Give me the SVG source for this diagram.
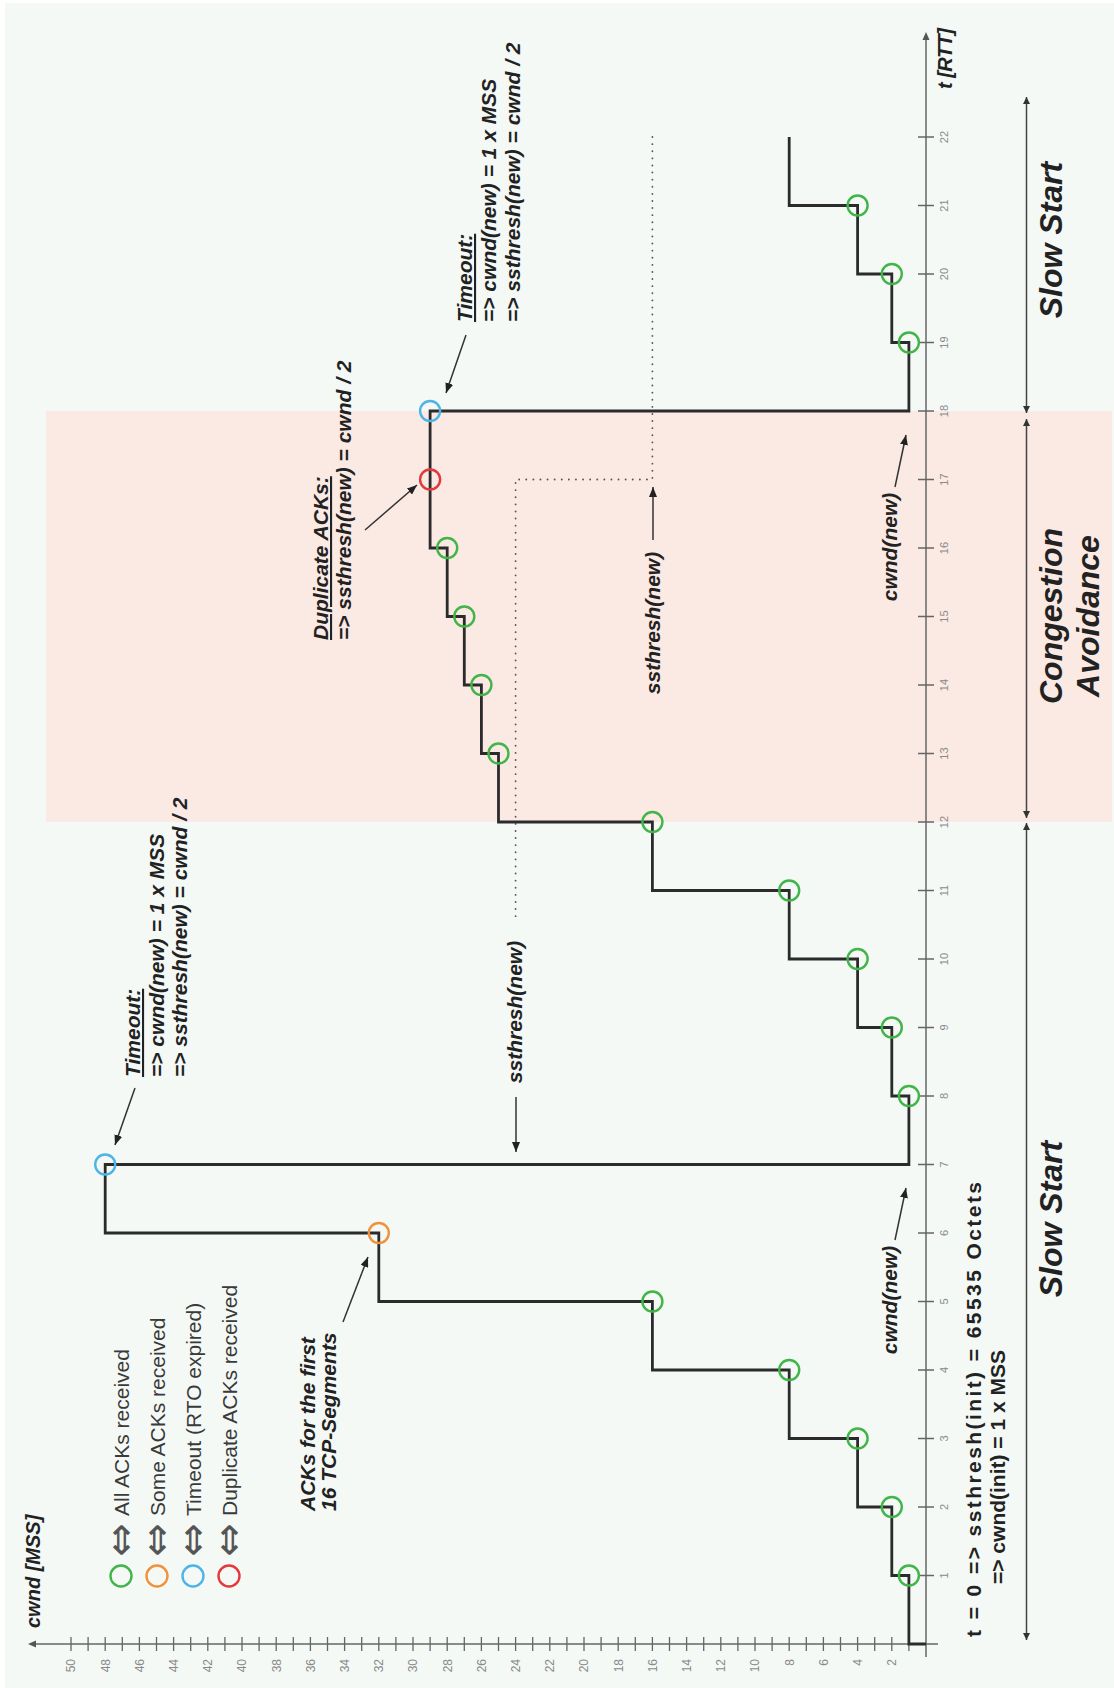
<svg xmlns="http://www.w3.org/2000/svg" width="1114" height="1688" viewBox="0 0 1114 1688">
  <defs>
    <style>
      text{font-family:"Liberation Sans",Arial,sans-serif}
      .ann{font-size:21px;font-weight:bold;font-style:italic;fill:#222}
      .leg{font-size:21px;fill:#3a3a3a}
      text.sym{font-family:"DejaVu Sans",sans-serif;font-size:40px;fill:#555}
      .tk{font-size:11px;fill:#8a8a8a}
      .tkc{font-size:12px;fill:#8a8a8a}
      .ph{font-size:32px;font-weight:bold;font-style:italic;fill:#222}
      .ini{font-size:21px;font-weight:bold;fill:#222}
      .axl{font-size:20px;font-weight:bold;font-style:italic;fill:#222}
      .curve{fill:none;stroke:#2b2b2b;stroke-width:2.8}
      .pt{fill:none;stroke-width:2.4}
      .g{stroke:#41b549}.o{stroke:#f0923c}.b{stroke:#4db5e6}.r{stroke:#e2393b}
      .ax{stroke:#666;stroke-width:1.5;fill:none}
      .tick{stroke:#666;stroke-width:1.3;fill:none}
      .dot{stroke:#555;stroke-width:1.8;stroke-dasharray:0.1 7;stroke-linecap:round;fill:none}
      .ptr{stroke:#333;stroke-width:1.5;fill:none;marker-end:url(#head)}
      .span{stroke:#444;stroke-width:1.5;fill:none;marker-start:url(#tip);marker-end:url(#tip)}
    </style>
    <marker id="head" viewBox="0 0 10 8" refX="10" refY="4" markerWidth="10" markerHeight="8" markerUnits="userSpaceOnUse" orient="auto">
      <path d="M0,0 L10,4 L0,8 z" fill="#222"/>
    </marker>
    <marker id="tip" viewBox="0 0 7 7" refX="7" refY="3.5" markerWidth="7" markerHeight="7" markerUnits="userSpaceOnUse" orient="auto-start-reverse">
      <path d="M0,0 L7,3.5 L0,7 z" fill="#333"/>
    </marker>
  </defs>

  <!-- backdrop and congestion-avoidance band -->
  <g id="backdrop">
    <rect x="0" y="0" width="1114" height="1688" fill="#ffffff"/>
    <rect x="5" y="3" width="1109" height="1685" fill="#f4f9f6"/>
    <rect x="46" y="411" width="1066" height="411" fill="#fbe9e3"/>
  </g>

  <!-- axes -->
  <g id="axes">
    <path class="ax" d="M938,1644 H34"/>
    <path d="M28,1644 L36,1640.5 L36,1647.5 z" fill="#555"/>
    <path class="ax" d="M926,1657 V38"/>
    <path d="M926,32 L922.5,40 L929.5,40 z" fill="#555"/>
    <!-- cwnd ticks, one per MSS -->
    <path class="tick" d="M908.9,1637V1651M891.8,1637V1651M874.7,1637V1651M857.6,1637V1651M840.5,1637V1651M823.4,1637V1651M806.3,1637V1651M789.2,1637V1651M772.1,1637V1651M755,1637V1651M737.9,1637V1651M720.8,1637V1651M703.7,1637V1651M686.6,1637V1651M669.5,1637V1651M652.4,1637V1651M635.3,1637V1651M618.2,1637V1651M601.1,1637V1651M584,1637V1651M566.9,1637V1651M549.8,1637V1651M532.7,1637V1651M515.6,1637V1651M498.5,1637V1651M481.4,1637V1651M464.3,1637V1651M447.2,1637V1651M430.1,1637V1651M413,1637V1651M395.9,1637V1651M378.8,1637V1651M361.7,1637V1651M344.6,1637V1651M327.5,1637V1651M310.4,1637V1651M293.3,1637V1651M276.2,1637V1651M259.1,1637V1651M242,1637V1651M224.9,1637V1651M207.8,1637V1651M190.7,1637V1651M173.6,1637V1651M156.5,1637V1651M139.4,1637V1651M122.3,1637V1651M105.2,1637V1651M88.1,1637V1651M71,1637V1651"/>
    <!-- time ticks, one per RTT -->
    <path class="tick" d="M918,1575.5H934M918,1507H934M918,1438.5H934M918,1370H934M918,1301.5H934M918,1233H934M918,1164.5H934M918,1096H934M918,1027.5H934M918,959H934M918,890.5H934M918,822H934M918,753.5H934M918,685H934M918,616.5H934M918,548H934M918,479.5H934M918,411H934M918,342.5H934M918,274H934M918,205.5H934M918,137H934"/>
    <g class="tkc" text-anchor="end">
      <text x="896.1" y="1659" transform="rotate(-90 896.1 1659)">2</text>
      <text x="861.9" y="1659" transform="rotate(-90 861.9 1659)">4</text>
      <text x="827.7" y="1659" transform="rotate(-90 827.7 1659)">6</text>
      <text x="793.5" y="1659" transform="rotate(-90 793.5 1659)">8</text>
      <text x="759.3" y="1659" transform="rotate(-90 759.3 1659)">10</text>
      <text x="725.1" y="1659" transform="rotate(-90 725.1 1659)">12</text>
      <text x="690.9" y="1659" transform="rotate(-90 690.9 1659)">14</text>
      <text x="656.7" y="1659" transform="rotate(-90 656.7 1659)">16</text>
      <text x="622.5" y="1659" transform="rotate(-90 622.5 1659)">18</text>
      <text x="588.3" y="1659" transform="rotate(-90 588.3 1659)">20</text>
      <text x="554.1" y="1659" transform="rotate(-90 554.1 1659)">22</text>
      <text x="519.9" y="1659" transform="rotate(-90 519.9 1659)">24</text>
      <text x="485.7" y="1659" transform="rotate(-90 485.7 1659)">26</text>
      <text x="451.5" y="1659" transform="rotate(-90 451.5 1659)">28</text>
      <text x="417.3" y="1659" transform="rotate(-90 417.3 1659)">30</text>
      <text x="383.1" y="1659" transform="rotate(-90 383.1 1659)">32</text>
      <text x="348.9" y="1659" transform="rotate(-90 348.9 1659)">34</text>
      <text x="314.7" y="1659" transform="rotate(-90 314.7 1659)">36</text>
      <text x="280.5" y="1659" transform="rotate(-90 280.5 1659)">38</text>
      <text x="246.3" y="1659" transform="rotate(-90 246.3 1659)">40</text>
      <text x="212.1" y="1659" transform="rotate(-90 212.1 1659)">42</text>
      <text x="177.9" y="1659" transform="rotate(-90 177.9 1659)">44</text>
      <text x="143.7" y="1659" transform="rotate(-90 143.7 1659)">46</text>
      <text x="109.5" y="1659" transform="rotate(-90 109.5 1659)">48</text>
      <text x="75.3" y="1659" transform="rotate(-90 75.3 1659)">50</text>
    </g>
    <g class="tk" text-anchor="middle">
      <text x="948" y="1575.5" transform="rotate(-90 948 1575.5)">1</text>
      <text x="948" y="1507" transform="rotate(-90 948 1507)">2</text>
      <text x="948" y="1438.5" transform="rotate(-90 948 1438.5)">3</text>
      <text x="948" y="1370" transform="rotate(-90 948 1370)">4</text>
      <text x="948" y="1301.5" transform="rotate(-90 948 1301.5)">5</text>
      <text x="948" y="1233" transform="rotate(-90 948 1233)">6</text>
      <text x="948" y="1164.5" transform="rotate(-90 948 1164.5)">7</text>
      <text x="948" y="1096" transform="rotate(-90 948 1096)">8</text>
      <text x="948" y="1027.5" transform="rotate(-90 948 1027.5)">9</text>
      <text x="948" y="959" transform="rotate(-90 948 959)">10</text>
      <text x="948" y="890.5" transform="rotate(-90 948 890.5)">11</text>
      <text x="948" y="822" transform="rotate(-90 948 822)">12</text>
      <text x="948" y="753.5" transform="rotate(-90 948 753.5)">13</text>
      <text x="948" y="685" transform="rotate(-90 948 685)">14</text>
      <text x="948" y="616.5" transform="rotate(-90 948 616.5)">15</text>
      <text x="948" y="548" transform="rotate(-90 948 548)">16</text>
      <text x="948" y="479.5" transform="rotate(-90 948 479.5)">17</text>
      <text x="948" y="411" transform="rotate(-90 948 411)">18</text>
      <text x="948" y="342.5" transform="rotate(-90 948 342.5)">19</text>
      <text x="948" y="274" transform="rotate(-90 948 274)">20</text>
      <text x="948" y="205.5" transform="rotate(-90 948 205.5)">21</text>
      <text x="948" y="137" transform="rotate(-90 948 137)">22</text>
    </g>
    <text class="axl" x="40" y="1628" transform="rotate(-90 40 1628)">cwnd [MSS]</text>
    <text class="axl" x="952" y="89" transform="rotate(-90 952 89)" textLength="61">t [RTT]</text>
  </g>

  <!-- phase spans along the time axis -->
  <g id="phases">
    <path class="span" d="M1026.5,823 V1640"/>
    <path class="span" d="M1026.5,419 V818"/>
    <path class="span" d="M1026.5,97 V413"/>
    <text class="ph" x="1062" y="1219" text-anchor="middle" transform="rotate(-90 1062 1219)">Slow Start</text>
    <text class="ph" x="1062" y="240" text-anchor="middle" transform="rotate(-90 1062 240)">Slow Start</text>
    <text class="ph" x="1062" y="616" text-anchor="middle" transform="rotate(-90 1062 616)">Congestion</text>
    <text class="ph" x="1099" y="616" text-anchor="middle" transform="rotate(-90 1099 616)">Avoidance</text>
  </g>

  <!-- ssthresh guide lines -->
  <g id="thresholds">
    <path class="dot" d="M652.4,137 V479.5 H515.6 V917"/>
  </g>

  <!-- congestion window over time -->
  <g id="cwnd-curve">
    <path class="curve" d="M926,1644 H908.9 V1575.5 H891.8 V1507 H857.6 V1438.5 H789.2 V1370 H652.4 V1301.5 H378.8 V1233 H105.2 V1164.5 H908.9 V1096 H891.8 V1027.5 H857.6 V959 H789.2 V890.5 H652.4 V822 H498.5 V753.5 H481.4 V685 H464.3 V616.5 H447.2 V548 H430.1 V411 H908.9 V342.5 H891.8 V274 H857.6 V205.5 H789.2 V137"/>
  </g>

  <!-- ACK events -->
  <g id="events">
    <circle class="pt g" cx="908.9" cy="1575.5" r="10"/>
    <circle class="pt g" cx="891.8" cy="1507" r="10"/>
    <circle class="pt g" cx="857.6" cy="1438.5" r="10"/>
    <circle class="pt g" cx="789.2" cy="1370" r="10"/>
    <circle class="pt g" cx="652.4" cy="1301.5" r="10"/>
    <circle class="pt o" cx="378.8" cy="1233" r="10"/>
    <circle class="pt b" cx="105.2" cy="1164.5" r="10"/>
    <circle class="pt g" cx="908.9" cy="1096" r="10"/>
    <circle class="pt g" cx="891.8" cy="1027.5" r="10"/>
    <circle class="pt g" cx="857.6" cy="959" r="10"/>
    <circle class="pt g" cx="789.2" cy="890.5" r="10"/>
    <circle class="pt g" cx="652.4" cy="822" r="10"/>
    <circle class="pt g" cx="498.5" cy="753.5" r="10"/>
    <circle class="pt g" cx="481.4" cy="685" r="10"/>
    <circle class="pt g" cx="464.3" cy="616.5" r="10"/>
    <circle class="pt g" cx="447.2" cy="548" r="10"/>
    <circle class="pt r" cx="430.1" cy="479.5" r="10"/>
    <circle class="pt b" cx="430.1" cy="411" r="10"/>
    <circle class="pt g" cx="908.9" cy="342.5" r="10"/>
    <circle class="pt g" cx="891.8" cy="274" r="10"/>
    <circle class="pt g" cx="857.6" cy="205.5" r="10"/>
  </g>

  <!-- legend -->
  <g id="legend">
    <circle class="pt g" cx="121" cy="1576" r="10.5"/>
    <circle class="pt o" cx="157" cy="1576" r="10.5"/>
    <circle class="pt b" cx="193" cy="1576" r="10.5"/>
    <circle class="pt r" cx="229" cy="1576" r="10.5"/>
    <text class="sym" x="134" y="1540" text-anchor="middle" transform="rotate(-90 134 1540)">⇔</text>
    <text class="sym" x="170" y="1540" text-anchor="middle" transform="rotate(-90 170 1540)">⇔</text>
    <text class="sym" x="206" y="1540" text-anchor="middle" transform="rotate(-90 206 1540)">⇔</text>
    <text class="sym" x="242" y="1540" text-anchor="middle" transform="rotate(-90 242 1540)">⇔</text>
    <text class="leg" x="128.5" y="1516" transform="rotate(-90 128.5 1516)">All ACKs received</text>
    <text class="leg" x="164.5" y="1516" transform="rotate(-90 164.5 1516)">Some ACKs received</text>
    <text class="leg" x="200.5" y="1516" transform="rotate(-90 200.5 1516)">Timeout (RTO expired)</text>
    <text class="leg" x="236.5" y="1516" transform="rotate(-90 236.5 1516)">Duplicate ACKs received</text>
  </g>

  <!-- annotation pointers -->
  <g id="connectors">
    <line class="ptr" x1="343" y1="1322" x2="368" y2="1257"/>
    <line class="ptr" x1="135" y1="1088" x2="115" y2="1145"/>
    <line class="ptr" x1="466" y1="335" x2="446" y2="393"/>
    <line class="ptr" x1="365" y1="530" x2="417" y2="485"/>
    <line class="ptr" x1="516" y1="1097" x2="516" y2="1152"/>
    <line class="ptr" x1="653" y1="540" x2="653" y2="487"/>
    <line class="ptr" x1="895" y1="1240" x2="906" y2="1188"/>
    <line class="ptr" x1="895" y1="487" x2="906" y2="435"/>
  </g>

  <!-- annotations -->
  <g id="note-first-acks">
    <text class="ann" x="315" y="1511" transform="rotate(-90 315 1511)">ACKs for the first</text>
    <text class="ann" x="336" y="1511" transform="rotate(-90 336 1511)">16 TCP-Segments</text>
  </g>
  <g id="note-timeout-1">
    <text class="ann" x="140" y="1077" transform="rotate(-90 140 1077)" text-decoration="underline">Timeout:</text>
    <text class="ann" x="163.5" y="1077" transform="rotate(-90 163.5 1077)">=&gt; cwnd(new) = 1 x MSS</text>
    <text class="ann" x="187" y="1077" transform="rotate(-90 187 1077)">=&gt; ssthresh(new) = cwnd / 2</text>
  </g>
  <g id="note-timeout-2">
    <text class="ann" x="472" y="322" transform="rotate(-90 472 322)" text-decoration="underline">Timeout:</text>
    <text class="ann" x="496" y="322" transform="rotate(-90 496 322)">=&gt; cwnd(new) = 1 x MSS</text>
    <text class="ann" x="520" y="322" transform="rotate(-90 520 322)">=&gt; ssthresh(new) = cwnd / 2</text>
  </g>
  <g id="note-dup-acks">
    <text class="ann" x="328" y="640" transform="rotate(-90 328 640)" text-decoration="underline">Duplicate ACKs:</text>
    <text class="ann" x="351" y="640" transform="rotate(-90 351 640)">=&gt; ssthresh(new) = cwnd / 2</text>
  </g>
  <g id="note-ssthresh">
    <text class="ann" x="522" y="1012" text-anchor="middle" transform="rotate(-90 522 1012)">ssthresh(new)</text>
    <text class="ann" x="660" y="623" text-anchor="middle" transform="rotate(-90 660 623)">ssthresh(new)</text>
  </g>
  <g id="note-cwnd">
    <text class="ann" x="897" y="1300" text-anchor="middle" transform="rotate(-90 897 1300)">cwnd(new)</text>
    <text class="ann" x="897" y="547" text-anchor="middle" transform="rotate(-90 897 547)">cwnd(new)</text>
  </g>
  <g id="note-init">
    <text class="ini" x="981" y="1637" transform="rotate(-90 981 1637)" textLength="455" lengthAdjust="spacing">t = 0 =&gt; ssthresh(init) = 65535 Octets</text>
    <text class="ini" x="1005" y="1584" transform="rotate(-90 1005 1584)">=&gt; cwnd(init) = 1 x MSS</text>
  </g>
</svg>
